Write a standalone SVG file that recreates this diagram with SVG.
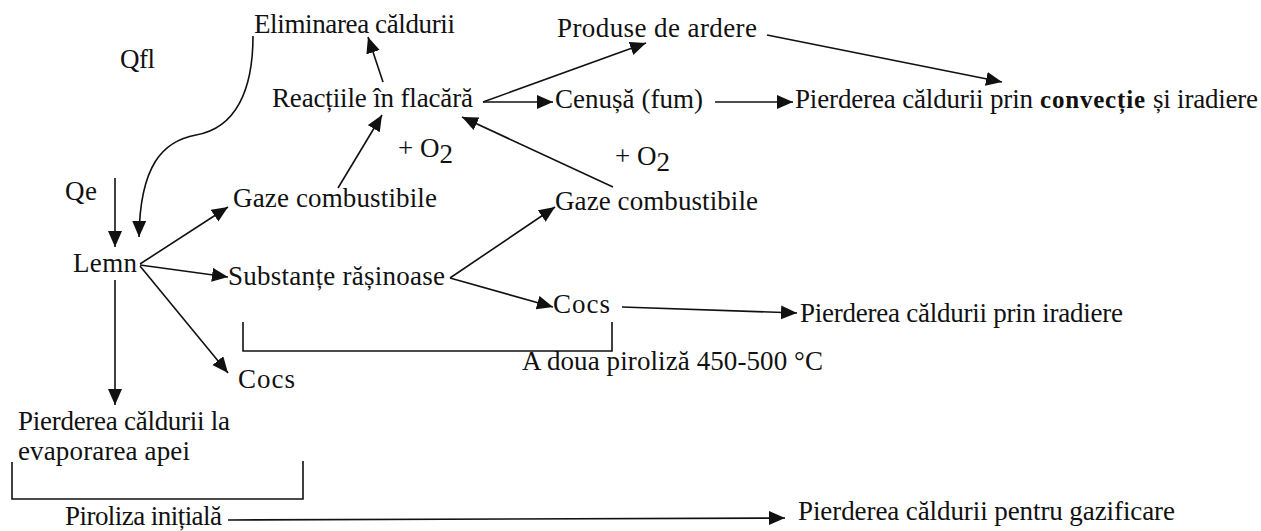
<svg xmlns="http://www.w3.org/2000/svg" width="1261" height="531" viewBox="0 0 1261 531" font-family="Liberation Serif, Times New Roman, Tinos, DejaVu Serif, Noto Serif, serif">
<style>
text{font-size:27px;fill:#111;}
.b{font-weight:bold;font-size:25px;}
.ln{stroke:#111;stroke-width:1.6;fill:none;}
.ar{marker-end:url(#ah);}
</style>
<defs>
<marker id="ah" markerUnits="userSpaceOnUse" markerWidth="17" markerHeight="15" refX="16" refY="7" orient="auto">
<path d="M0,0 L16,7 L0,14 z" fill="#111"/>
</marker>
</defs>
<rect width="1261" height="531" fill="#fff"/>
<g id="connectors">
<path class="ln ar" d="M253,36 C253,90 236,128 196,135 C163,141 140,165 139,237"/>
<line class="ln ar" x1="115" y1="178" x2="115" y2="247"/>
<line class="ln ar" x1="140" y1="264" x2="228" y2="207"/>
<line class="ln ar" x1="140" y1="265" x2="228" y2="277"/>
<line class="ln ar" x1="140" y1="266" x2="228" y2="373"/>
<line class="ln ar" x1="115" y1="280" x2="115" y2="405"/>
<line class="ln ar" x1="338" y1="188" x2="382" y2="115"/>
<line class="ln ar" x1="383" y1="82" x2="368" y2="37"/>
<line class="ln ar" x1="483" y1="102" x2="646" y2="43"/>
<line class="ln ar" x1="483" y1="102" x2="553" y2="102"/>
<line class="ln ar" x1="715" y1="102" x2="793" y2="102"/>
<line class="ln ar" x1="767" y1="35" x2="1002" y2="82"/>
<line class="ln ar" x1="613" y1="187" x2="462" y2="117"/>
<line class="ln ar" x1="450" y1="278" x2="555" y2="207"/>
<line class="ln ar" x1="450" y1="278" x2="553" y2="307"/>
<line class="ln ar" x1="622" y1="307" x2="797" y2="313"/>
<line class="ln ar" x1="228" y1="520" x2="785" y2="518"/>
<polyline class="ln" points="243,322 243,351 612,351 612,322"/>
<polyline class="ln" points="12,462 12,499 303,499 303,461"/>
</g>
<g id="eliminarea"><text x="254" y="33" textLength="201">Eliminarea căldurii</text></g>
<g id="qfl"><text x="120" y="68" textLength="35">Qfl</text></g>
<g id="reactiile"><text x="272" y="107" textLength="201">Reacțiile în flacără</text></g>
<g id="produse"><text x="557" y="37" textLength="200">Produse de ardere</text></g>
<g id="cenusa"><text x="555" y="108" textLength="148">Cenușă (fum)</text></g>
<g id="pierderea-convectie">
<text x="795" y="108" textLength="238">Pierderea căldurii prin</text>
<text class="b" x="1040" y="108" textLength="105">convecție</text>
<text x="1153" y="108" textLength="105">și iradiere</text>
</g>
<g id="o2-left"><text x="398" y="157">+ O<tspan dy="6">2</tspan></text></g>
<g id="o2-right"><text x="615" y="165">+ O<tspan dy="6">2</tspan></text></g>
<g id="qe"><text x="65" y="200" textLength="32">Qe</text></g>
<g id="gaze-left"><text x="233" y="207" textLength="204">Gaze combustibile</text></g>
<g id="gaze-right"><text x="555" y="210" textLength="203">Gaze combustibile</text></g>
<g id="lemn"><text x="73" y="272" textLength="64">Lemn</text></g>
<g id="substante"><text x="228" y="285" textLength="217">Substanțe rășinoase</text></g>
<g id="cocs-mid"><text x="553" y="313" textLength="57">Cocs</text></g>
<g id="pierderea-iradiere"><text x="800" y="322" textLength="323">Pierderea căldurii prin iradiere</text></g>
<g id="a-doua-piroliza"><text x="522" y="370" textLength="301">A doua piroliză 450-500 °C</text></g>
<g id="cocs-left"><text x="238" y="388" textLength="57">Cocs</text></g>
<g id="pierderea-evaporare">
<text x="18" y="430" textLength="212">Pierderea căldurii la</text>
<text x="18" y="460" textLength="172">evaporarea apei</text>
</g>
<g id="piroliza-initiala"><text x="65" y="525" textLength="157">Piroliza inițială</text></g>
<g id="pierderea-gazificare"><text x="798" y="520" textLength="377">Pierderea căldurii pentru gazificare</text></g>
</svg>
